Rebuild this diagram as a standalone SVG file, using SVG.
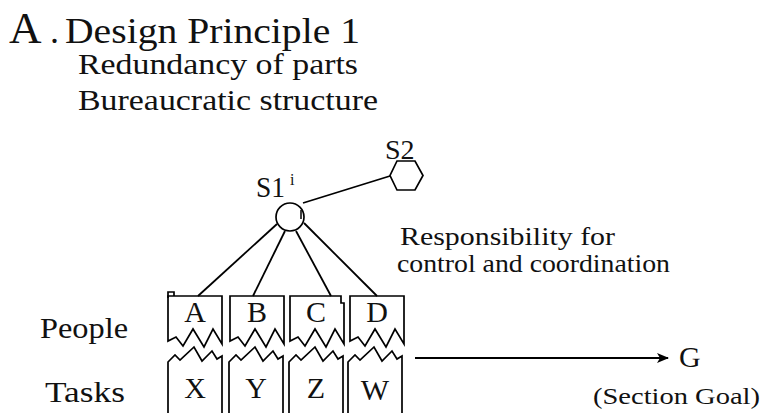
<svg xmlns="http://www.w3.org/2000/svg" width="761" height="413" viewBox="0 0 761 413">
  <style>
    text { font-family: "Liberation Serif", "Times New Roman", serif; fill: #111; }
    .shape { fill: none; stroke: #000; stroke-width: 1.7; stroke-linejoin: miter; }
    .link { fill: none; stroke: #000; stroke-width: 1.8; }
    .letter { font-size: 30px; text-anchor: middle; }
  </style>
  <defs>
    <marker id="arrowhead" viewBox="0 0 12 10" refX="11" refY="5" markerWidth="13" markerHeight="10" markerUnits="userSpaceOnUse" orient="auto">
      <path d="M0,0 L12,5 L0,10 L3,5 Z" fill="#000"/>
    </marker>
    <!-- upper (person) card, 54 wide, torn along its lower edge -->
    <path id="person" d="M0,45 L0,0 L54,0 L54,48 L45,33 L36,51 L25,33 L15,50 L8,41 Z"/>
    <!-- lower (task) card, torn along its upper edge, open at the bottom -->
    <path id="task" d="M0,120 L0,66 L7,59 L12,64 L26,51 L34,65 L44,55 L49,63 L54,60 L54,120"/>
  </defs>

  <!-- heading -->
  <g id="title">
    <text x="9" y="43" font-size="45">A</text>
    <text x="50" y="43" font-size="36">.</text>
    <text x="65" y="43" font-size="35" textLength="295" lengthAdjust="spacingAndGlyphs">Design Principle 1</text>
    <text x="78" y="74" font-size="30" textLength="280" lengthAdjust="spacingAndGlyphs">Redundancy of parts</text>
    <text x="78" y="110" font-size="30" textLength="300" lengthAdjust="spacingAndGlyphs">Bureaucratic structure</text>
  </g>

  <!-- connectors -->
  <g id="connectors">
    <line class="link" x1="303" y1="203" x2="390" y2="176"/>
    <line class="link" x1="277" y1="224" x2="198" y2="296"/>
    <line class="link" x1="285" y1="231" x2="253" y2="296"/>
    <line class="link" x1="296" y1="231" x2="331" y2="296"/>
    <line class="link" x1="304" y1="223" x2="377" y2="296"/>
    <line class="link" x1="415" y1="358" x2="668" y2="358" stroke-width="3" marker-end="url(#arrowhead)"/>
  </g>

  <!-- supervisor S1 -->
  <g id="S1">
    <circle class="shape" cx="290" cy="217" r="14"/>
    <line x1="301" y1="210" x2="301" y2="219" stroke="#000" stroke-width="1.5"/>
    <text x="256" y="197" font-size="30" textLength="29" lengthAdjust="spacingAndGlyphs">S1</text>
    <text x="290" y="185" font-size="16">i</text>
  </g>

  <!-- supervisor S2 -->
  <g id="S2">
    <polygon class="shape" points="397,161 415,161 423,175.5 415,190 397,190 390,175.5"/>
    <text x="385" y="159" font-size="28">S2</text>
  </g>

  <g id="responsibility-label">
    <text x="400" y="245" font-size="26" textLength="215" lengthAdjust="spacingAndGlyphs">Responsibility for</text>
    <text x="397" y="272" font-size="26" textLength="273" lengthAdjust="spacingAndGlyphs">control and coordination</text>
  </g>

  <g id="row-labels">
    <text x="40" y="338" font-size="30" textLength="88" lengthAdjust="spacingAndGlyphs">People</text>
    <text x="45" y="402" font-size="30" textLength="80" lengthAdjust="spacingAndGlyphs">Tasks</text>
  </g>

  <!-- people cards -->
  <g id="person-A">
    <use href="#person" class="shape" x="168" y="296"/>
    <path class="shape" d="M168,298 L168,292 L174,292 L174,296"/>
    <text class="letter" x="195" y="322">A</text>
  </g>
  <g id="person-B">
    <use href="#person" class="shape" x="230" y="296"/>
    <text class="letter" x="257" y="322">B</text>
  </g>
  <g id="person-C">
    <path class="shape" d="M290,341 L290,296 L341,296 L341,303 L344,303 L344,344 L335,329 L326,347 L315,329 L305,346 L298,337 Z"/>
    <text class="letter" x="316" y="322">C</text>
  </g>
  <g id="person-D">
    <use href="#person" class="shape" x="350" y="296"/>
    <text class="letter" x="377" y="322">D</text>
  </g>

  <!-- task cards -->
  <g id="task-X">
    <use href="#task" class="shape" x="168" y="296"/>
    <text class="letter" x="195" y="398">X</text>
  </g>
  <g id="task-Y">
    <use href="#task" class="shape" x="229" y="296"/>
    <text class="letter" x="256" y="398">Y</text>
  </g>
  <g id="task-Z">
    <use href="#task" class="shape" x="289" y="296"/>
    <text class="letter" x="316" y="398">Z</text>
  </g>
  <g id="task-W">
    <use href="#task" class="shape" x="348" y="296"/>
    <text class="letter" x="375" y="400">W</text>
  </g>

  <!-- section goal -->
  <g id="G">
    <text x="679" y="367" font-size="30">G</text>
    <text x="593" y="404" font-size="24" textLength="167" lengthAdjust="spacingAndGlyphs">(Section Goal)</text>
  </g>
</svg>
